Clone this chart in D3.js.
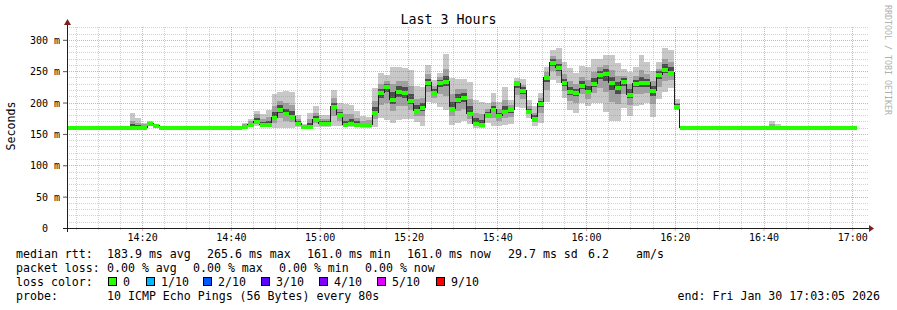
<!DOCTYPE html>
<html>
<head>
<meta charset="utf-8">
<script src="https://cdn.jsdelivr.net/npm/d3@7"></script>
<style>
  body { margin: 0; background: #fff; }
  text { font-family: "DejaVu Sans Mono", monospace; fill: #000; }
</style>
</head>
<body>
<svg id="chart" width="897" height="310"></svg>
<script>
var chartTitle = "Last 3 Hours";
var yTitle = "Seconds";
var watermark = "RRDTOOL / TOBI OETIKER";

var startTime = new Date(2026, 0, 30, 14, 3, 5);
var endTime = new Date(2026, 0, 30, 17, 3, 5);
var firstSample = new Date(2026, 0, 30, 14, 2, 30);
var stepSeconds = 80;

var yTickValues = [0, 50, 100, 150, 200, 250, 300];
var yTickLabels = ["0\u00a0\u00a0", "50 m", "100 m", "150 m", "200 m", "250 m", "300 m"];

// median rtt per 80s step (ms)
var rttMedian = [
  161,161,161,161,161,161,161,161,161,161,161,
  161,161,161,167,164,
  161,161,161,161,161,161,161,161,161,161,161,161,161,161,
  163,166,171,165,165,177,190,183,178,168,
  162,163,174,168,168,195,181,165,168,166,
  165,165,185,216,227,206,218,216,204,188,
  193,232,217,233,235,192,206,209,184,168,
  165,182,190,180,187,189,231,220,187,176,
  200,240,265,256,232,218,216,228,218,231,
  246,247,232,224,235,214,231,232,232,220,
  246,254,249,195,
  161,161,161,161,161,161,161,161,161,161,161,161,161,161,161,
  161,161,161,161,161,161,161,161,161,161,161,161,161,161,161
];
// fastest ping
var rttMin = [
  161,161,161,161,161,161,161,161,161,161,161,
  161,161,161,165,163,
  161,161,161,161,161,161,161,161,161,161,161,161,161,161,
  161,161,162,161,161,160,160,160,160,161,
  161,160,161,161,161,163,162,161,161,161,
  160,160,161,176,172,168,172,173,173,169,
  163,201,199,193,188,164,168,170,165,160,
  160,168,163,163,164,165,193,191,176,162,
  167,201,236,231,207,188,184,199,195,200,
  200,185,170,170,191,178,195,196,199,177,
  205,217,223,188,
  161,161,161,161,161,161,161,161,161,161,161,161,161,161,161,
  161,161,161,161,161,161,161,161,161,161,161,161,161,161,161
];
// slowest ping
var rttMax = [
  161,161,161,161,161,161,161,161,161,161,161,
  184,175,168,170,165,
  161,161,161,161,161,161,161,161,161,161,161,161,161,161,
  167,174,187,181,188,214,217,219,216,180,
  166,184,194,180,180,220,200,197,196,186,
  178,177,223,247,244,257,256,255,252,227,
  225,260,236,247,277,239,237,237,232,204,
  201,199,215,201,225,204,239,238,204,194,
  215,257,284,287,264,255,247,258,257,269,
  269,276,276,263,253,248,257,276,264,250,
  264,287,283,205,
  161,161,161,161,161,161,161,161,161,161,161,161,161,161,161,
  171,166,161,161,161,161,161,161,161,161,161,161,161,161,161
];
// 3rd and 8th of the sorted pings
var rttLow = [
  161,161,161,161,161,161,161,161,161,161,161,
  161,161,161,166,163,
  161,161,161,161,161,161,161,161,161,161,161,161,161,161,
  162,163,166,163,163,168,175,171,169,164,
  161,161,167,164,164,179,171,163,164,163,
  162,162,173,196,200,187,195,195,188,178,
  178,216,208,213,211,178,187,190,174,164,
  162,175,176,171,175,177,212,205,181,169,
  183,220,250,243,219,203,200,213,206,215,
  223,216,201,197,213,196,213,214,215,198,
  225,235,236,191,
  161,161,161,161,161,161,161,161,161,161,161,161,161,161,161,
  161,161,161,161,161,161,161,161,161,161,161,161,161,161,161
];
var rttHigh = [
  161,161,161,161,161,161,161,161,161,161,161,
  171,168,165,169,165,
  161,161,161,161,161,161,161,161,161,161,161,161,161,161,
  165,170,182,173,177,194,203,200,196,174,
  164,173,183,174,174,207,190,181,181,175,
  171,172,202,230,235,229,235,234,226,205,
  207,245,226,240,254,213,221,222,206,184,
  181,190,201,189,204,196,235,228,195,184,
  207,248,274,270,246,235,230,241,236,248,
  256,260,252,242,243,229,243,252,246,234,
  254,269,264,200,
  161,161,161,161,161,161,161,161,161,161,161,161,161,161,161,
  166,163,161,161,161,161,161,161,161,161,161,161,161,161,161
];
// pings next to the median
var rttInLow = [
  161,161,161,161,161,161,161,161,161,161,161,
  161,161,161,167,164,
  161,161,161,161,161,161,161,161,161,161,161,161,161,161,
  162,165,169,164,164,174,184,178,174,167,
  162,162,171,167,167,189,177,164,167,165,
  164,164,180,208,216,198,209,207,198,184,
  187,226,213,225,226,186,199,201,180,166,
  164,179,185,177,182,184,223,214,185,173,
  193,232,259,251,227,212,210,222,213,225,
  237,235,220,213,226,207,224,225,225,211,
  238,247,244,194,
  161,161,161,161,161,161,161,161,161,161,161,161,161,161,161,
  161,161,161,161,161,161,161,161,161,161,161,161,161,161,161
];
var rttInHigh = [
  161,161,161,161,161,161,161,161,161,161,161,
  166,164,163,168,164,
  161,161,161,161,161,161,161,161,161,161,161,161,161,161,
  164,168,176,169,170,185,196,190,186,171,
  163,167,178,171,171,200,185,171,174,170,
  168,168,193,222,230,216,226,224,214,196,
  199,238,221,236,243,201,213,215,194,175,
  172,185,195,184,195,192,233,224,190,180,
  203,243,269,262,238,225,222,234,226,239,
  251,253,241,232,239,221,236,241,238,226,
  250,261,256,197,
  161,161,161,161,161,161,161,161,161,161,161,161,161,161,161,
  163,162,161,161,161,161,161,161,161,161,161,161,161,161,161
];

var lossLabels = ["0", "1/10", "2/10", "3/10", "4/10", "5/10", "9/10"];
var lossColors = ["#26ff00", "#00b8ff", "#0059ff", "#5e00ff", "#7e00ff", "#dd00ff", "#ff0000"];

var rttLegend = ["median rtt:", "183.9 ms avg", "265.6 ms max", "161.0 ms min", "161.0 ms now", "29.7 ms sd", "6.2", "am/s"];
var lossLegend = ["packet loss:", "0.00 % avg", "0.00 % max", "0.00 % min", "0.00 % now"];
var probeLegend = ["probe:", "10 ICMP Echo Pings (56 Bytes) every 80s"];
var endLabel = "end: Fri Jan 30 17:03:05 2026";

// layout
var rttLegendX = [16, 107, 207, 307, 407, 508, 588, 636];
var lossLegendX = [16, 107, 193, 279, 365];
var lossSwatchX = [108, 146, 203, 261, 319, 377, 436];
var rowY = [258, 272, 286, 300];
var plot = { left: 67, right: 869, top: 26, bottom: 228 };

var svg = d3.select("#chart");

var x = d3.scaleTime().domain([startTime, endTime]).range([67, 866]);
var y = d3.scaleLinear().domain([0, 322]).range([plot.bottom, plot.top]);

var samples = rttMedian.map(function (m, i) {
    return {
        t: d3.timeSecond.offset(firstSample, i * stepSeconds),
        t1: d3.timeSecond.offset(firstSample, (i + 1) * stepSeconds),
        med: m, min: rttMin[i], max: rttMax[i],
        low: rttLow[i], high: rttHigh[i],
        inLow: rttInLow[i], inHigh: rttInHigh[i]
    };
});
// closing point so the last step gets its width
var last = samples[samples.length - 1];
var stepped = samples.concat([Object.assign({}, last, { t: last.t1 })]);

svg.append("defs").append("clipPath").attr("id", "plotclip")
  .append("rect")
    .attr("x", plot.left).attr("y", plot.top)
    .attr("width", plot.right - plot.left).attr("height", plot.bottom - plot.top);

// smoke
var smoke = svg.append("g").attr("clip-path", "url(#plotclip)").attr("shape-rendering", "crispEdges");
var bands = [
    { lo: "min", hi: "max", color: "#c8c8c8" },
    { lo: "low", hi: "high", color: "#a0a0a0" },
    { lo: "inLow", hi: "inHigh", color: "#4c4c4c" }
];
bands.forEach(function (b) {
    var area = d3.area()
        .x(function (d) { return x(d.t); })
        .y0(function (d) { return y(d[b.lo]); })
        .y1(function (d) { return y(d[b.hi]); })
        .curve(d3.curveStepAfter);
    smoke.append("path").datum(stepped).attr("d", area).attr("fill", b.color);
});

// grid
var grid = svg.append("g").attr("shape-rendering", "crispEdges");
var minorColor = "rgba(143,143,143,0.4)";
var majorColor = "rgba(222,79,79,0.5)";
var majorTimes = d3.timeMinute.every(20).range(startTime, endTime);
var minorTimes = d3.timeMinute.every(5).range(startTime, endTime).filter(function (t) {
    return t.getMinutes() % 20 !== 0;
});
var minorValues = d3.range(10, 330, 10).filter(function (v) { return v % 50 !== 0; });

grid.selectAll(".vminor").data(minorTimes).enter().append("line")
    .attr("x1", function (d) { return Math.round(x(d)) + 0.5; })
    .attr("x2", function (d) { return Math.round(x(d)) + 0.5; })
    .attr("y1", plot.bottom).attr("y2", plot.top)
    .attr("stroke", minorColor).attr("stroke-dasharray", "1,1");
grid.selectAll(".hminor").data(minorValues).enter().append("line")
    .attr("x1", plot.left).attr("x2", plot.right)
    .attr("y1", function (d) { return Math.round(y(d)) + 0.5; })
    .attr("y2", function (d) { return Math.round(y(d)) + 0.5; })
    .attr("stroke", minorColor).attr("stroke-dasharray", "1,1");
grid.selectAll(".vmajor").data(majorTimes).enter().append("line")
    .attr("x1", function (d) { return Math.round(x(d)) + 0.5; })
    .attr("x2", function (d) { return Math.round(x(d)) + 0.5; })
    .attr("y1", plot.bottom).attr("y2", plot.top)
    .attr("stroke", majorColor).attr("stroke-dasharray", "1,1");
grid.selectAll(".hmajor").data(yTickValues.slice(1)).enter().append("line")
    .attr("x1", plot.left).attr("x2", plot.right)
    .attr("y1", function (d) { return Math.round(y(d)) + 0.5; })
    .attr("y2", function (d) { return Math.round(y(d)) + 0.5; })
    .attr("stroke", majorColor).attr("stroke-dasharray", "1,1");

// median: thin dark step line, then loss-coloured bars
var medLine = d3.line()
    .x(function (d) { return x(d.t); })
    .y(function (d) { return Math.round(y(d.med)) + 0.5; })
    .curve(d3.curveStepAfter);
var medGroup = svg.append("g").attr("clip-path", "url(#plotclip)").attr("shape-rendering", "crispEdges");
medGroup.append("path").datum(stepped).attr("d", medLine)
    .attr("fill", "none").attr("stroke", "#1f1f1f").attr("stroke-width", 1);
medGroup.selectAll("rect").data(samples).enter().append("rect")
    .attr("x", function (d) { return x(d.t); })
    .attr("width", function (d) { return x(d.t1) - x(d.t); })
    .attr("y", function (d) { return Math.round(y(d.med)) - 1.5; })
    .attr("height", 4)
    .attr("fill", lossColors[0]);

// axes
var xAxis = d3.axisBottom(x).tickValues(majorTimes).tickFormat(d3.timeFormat("%H:%M"))
    .tickSize(3).tickPadding(3);
var gx = svg.append("g").attr("transform", "translate(0," + plot.bottom + ")").call(xAxis);
gx.select(".domain").remove();
gx.selectAll("line").attr("stroke", majorColor);
gx.selectAll("text").style("font-family", '"DejaVu Sans Mono", monospace').style("font-size", "10px");
gx.selectAll(".minor").data(minorTimes).enter().append("line")
    .attr("x1", function (d) { return Math.round(x(d)) + 0.5; })
    .attr("x2", function (d) { return Math.round(x(d)) + 0.5; })
    .attr("y1", 0).attr("y2", 2).attr("stroke", minorColor);

var yAxis = d3.axisLeft(y).tickValues(yTickValues)
    .tickFormat(function (d, i) { return yTickLabels[i]; })
    .tickSize(4).tickPadding(3);
var gy = svg.append("g").attr("transform", "translate(" + plot.left + ",0)").call(yAxis);
gy.select(".domain").remove();
gy.selectAll("line").attr("stroke", "#555");
gy.selectAll("text").attr("dy", "0.36em")
    .style("font-family", '"DejaVu Sans Mono", monospace').style("font-size", "10px");

svg.append("line").attr("x1", 63).attr("x2", 870).attr("y1", plot.bottom + 0.5).attr("y2", plot.bottom + 0.5)
    .attr("stroke", "#1f1f1f");
svg.append("line").attr("x1", plot.left + 0.5).attr("x2", plot.left + 0.5).attr("y1", plot.bottom + 4).attr("y2", 23)
    .attr("stroke", "#1f1f1f");
svg.append("path").attr("d", "M869,225L874,228.5L869,232Z").attr("fill", "#801f1f");
svg.append("path").attr("d", "M64,25L67.5,19L71,25Z").attr("fill", "#801f1f");

// titles
svg.append("text").attr("x", 448.5).attr("y", 24).attr("text-anchor", "middle")
    .style("font-size", "13.3px").text(chartTitle);
svg.append("text").attr("transform", "translate(15,126) rotate(-90)").attr("text-anchor", "middle")
    .style("font-size", "11.6px").text(yTitle);
svg.append("text").attr("transform", "translate(885,5) rotate(90)")
    .style("font-size", "8.3px").style("fill", "#b0b0b0").text(watermark);

// legend
var legend = svg.append("g").style("font-size", "11.6px");
legend.selectAll(".rtt").data(rttLegend).enter().append("text")
    .attr("x", function (d, i) { return rttLegendX[i]; }).attr("y", rowY[0]).text(function (d) { return d; });
legend.selectAll(".loss").data(lossLegend).enter().append("text")
    .attr("x", function (d, i) { return lossLegendX[i]; }).attr("y", rowY[1]).text(function (d) { return d; });
legend.append("text").attr("x", 16).attr("y", rowY[2]).text("loss color:");
legend.selectAll(".sw").data(lossColors).enter().append("rect")
    .attr("x", function (d, i) { return lossSwatchX[i] + 0.5; }).attr("y", rowY[2] - 8.5)
    .attr("width", 8).attr("height", 8)
    .attr("fill", function (d) { return d; }).attr("stroke", "#000");
legend.selectAll(".swl").data(lossLabels).enter().append("text")
    .attr("x", function (d, i) { return lossSwatchX[i] + 15; }).attr("y", rowY[2]).text(function (d) { return d; });
legend.append("text").attr("x", 16).attr("y", rowY[3]).text(probeLegend[0]);
legend.append("text").attr("x", 107).attr("y", rowY[3]).text(probeLegend[1]);
legend.append("text").attr("x", 880).attr("y", rowY[3]).attr("text-anchor", "end").text(endLabel);
</script>
</body>
</html>
